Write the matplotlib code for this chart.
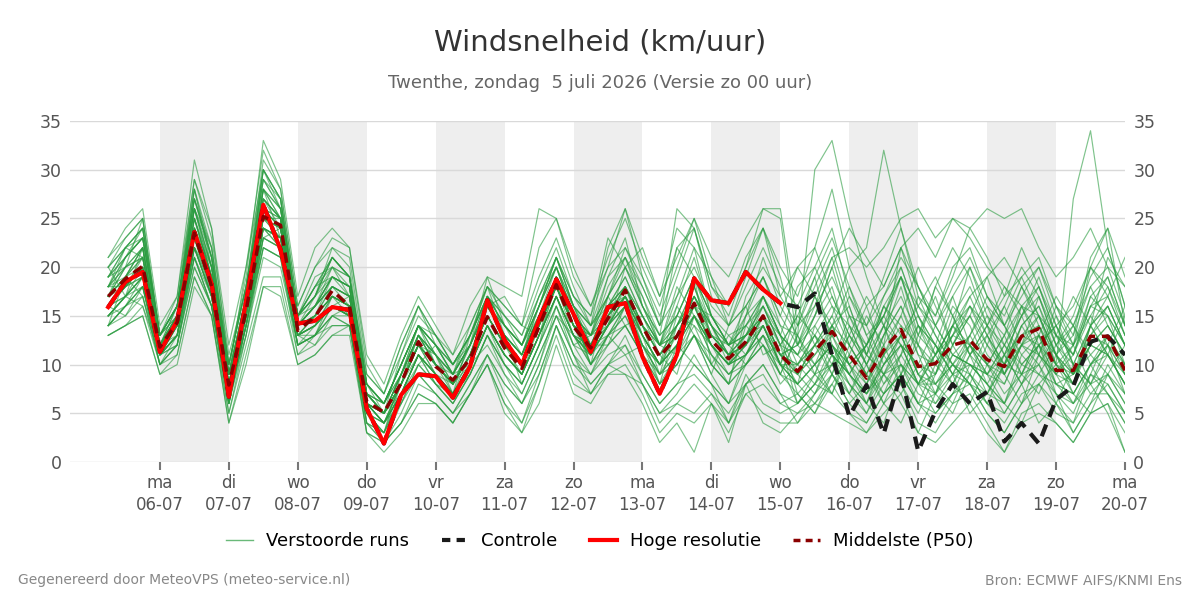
import matplotlib
matplotlib.use("Agg")
import matplotlib.pyplot as plt
import numpy as np
from matplotlib.lines import Line2D

# ---------------- data ----------------
# 6-hourly time steps, hours after 05-07 00:00
hours = [6 + 6 * i for i in range(60)]

day_ticks = [24 * d for d in range(1, 16)]
day_labels = ["ma\n06-07", "di\n07-07", "wo\n08-07", "do\n09-07", "vr\n10-07",
              "za\n11-07", "zo\n12-07", "ma\n13-07", "di\n14-07", "wo\n15-07",
              "do\n16-07", "vr\n17-07", "za\n18-07", "zo\n19-07", "ma\n20-07"]

hoge_resolutie = [15.9, 18.5, 19.5, 11.3, 14.5, 23.6, 18.3, 6.7, 16.5, 26.4,
                  21.8, 14.2, 14.5, 15.9, 15.6, 5.5, 1.9, 6.9, 9.0, 8.8,
                  6.6, 9.8, 16.6, 12.5, 10.0, 14.6, 18.75, 15.2, 11.3, 15.9,
                  16.3, 10.8, 7.0, 11.0, 18.85, 16.6, 16.3, 19.5, 17.7, 16.3]

controle = [15.9, 18.5, 19.5, 11.3, 14.5, 23.6, 18.3, 6.7, 16.5, 26.4,
            21.8, 14.2, 14.5, 15.9, 15.6, 5.5, 1.9, 6.9, 9.0, 8.8,
            6.6, 9.8, 16.6, 12.5, 10.0, 14.6, 18.75, 15.2, 11.3, 15.9,
            16.3, 10.8, 7.0, 11.0, 18.85, 16.6, 16.3, 19.5, 17.7, 16.3,
            15.9, 17.3, 11.0, 4.7, 7.9, 2.9, 9.1, 1.1, 5.2, 8.0,
            6.0, 7.2, 2.1, 4.0, 1.9, 6.4, 7.8, 12.35, 12.9, 11.0]

middelste = [17.0, 18.8, 20.1, 11.8, 14.3, 23.5, 18.0, 7.9, 15.5, 25.2,
             24.3, 13.5, 14.9, 17.6, 16.0, 6.2, 5.1, 8.1, 12.35, 9.8,
             8.4, 10.6, 14.9, 11.7, 9.6, 13.9, 18.2, 13.9, 11.7, 14.75,
             17.65, 13.9, 10.8, 12.9, 16.3, 12.5, 10.6, 12.35, 15.0, 11.0,
             9.3, 11.4, 13.4, 11.0, 8.6, 11.5, 13.6, 9.8, 10.1, 12.0,
             12.5, 10.5, 9.8, 12.9, 13.7, 9.4, 9.4, 12.9, 12.9, 9.4]

# perturbed members (Verstoorde runs), 60 values each
m01 = [17,20,22,12,15,25,19,8,16,27,25,14,16,19,18, 7,5,9,13,11,9,12,16,13,11,15,20,15, 12,16,19,15,12,14,18,13,11,13,16,12, 11,15,20,14,10,13,16,12,9,14,17,13,10,12,15,11,8,14,16,12]
m02 = [15,17,19,11,13,22,17,7,14,23,22,13,14,16,15, 6,4,7,11,9,8,10,14,11,9,13,17,13, 11,14,16,13,10,12,15,12,10,11,14,10, 8,10,12,9,7,11,13,9,11,13,12,9,8,12,13,8,9,12,11,8]
m03 = [19,22,24,13,16,27,21,9,17,29,26,15,17,21,19, 8,6,10,14,12,10,13,18,15,13,17,21,17, 15,20,22,18,14,19,24,17,14,18,22,18, 16,20,24,17,13,15,19,14,12,17,20,15,13,16,18,13,11,17,19,14]
m04 = [13,14,16,10,11,19,15,5,12,19,19,11,12,14,14, 3,2,4,7,6,4,7,10,6,3,8,14,9, 7,10,9,8,4,6,5,7,4,9,6,5, 6,8,10,7,5,8,10,6,7,9,8,6,5,8,10,6,4,9,8,5]
m05 = [18,20,21,12,14,24,19,8,15,26,24,14,15,18,17, 6,5,8,12,10,8,11,15,12,10,14,19,14, 12,15,18,14,11,13,17,13,11,12,15,11, 9,12,15,11,8,12,22,18,14,11,10,9,12,15,17,12,9,11,13,10]
m06 = [16,18,20,11,14,23,18,7,16,25,24,13,15,17,16, 5,4,8,12,9,7,10,14,11,9,13,17,13, 11,14,17,13,10,12,15,12,10,12,14,10, 14,18,22,16,11,9,12,10,8,11,13,10,9,14,16,11,7,10,12,9]
m07 = [20,23,25,13,17,29,23,11,18,31,28,16,20,22,21, 9,7,11,15,13,11,14,18,16,14,19,23,18, 14,22,26,21,17,24,22,19,16,21,24,19, 12,16,19,15,14,19,24,17,15,20,22,17,15,19,21,16,13,18,20,15]
m08 = [14,15,17,10,12,20,16,6,13,21,20,12,13,15,14, 4,2,6,9,7,5,8,11,8,6,10,15,11, 8,10,11,8,5,6,8,6,4,7,8,6, 5,7,9,6,4,7,9,6,5,7,9,6,4,7,8,5,4,7,7,4]
m09 = [17,19,21,12,15,25,19,8,17,27,25,14,16,18,17, 7,5,9,13,10,8,11,15,12,10,14,18,14, 12,15,17,14,11,13,16,13,11,12,15,11, 9,11,13,10,12,16,19,14,10,8,11,14,17,19,15,10,8,12,14,11]
m10 = [16,18,19,11,14,23,18,7,15,24,23,13,14,17,16, 6,5,8,12,10,8,11,15,12,10,14,18,14, 12,14,17,13,10,12,16,12,10,12,15,11, 10,12,11,9,7,9,11,8,9,12,16,13,10,9,12,14,11,16,17,13]
m11 = [21,24,26,14,17,31,24,10,19,33,29,17,22,24,22, 10,7,12,16,13,10,13,18,16,14,22,25,19, 16,21,25,20,16,22,24,18,16,20,24,20, 17,22,28,20,16,18,22,16,14,18,21,17,14,18,20,16,14,19,22,16]
m12 = [13,14,15,9,11,19,15,4,11,18,18,10,11,13,14, 3,1,3,6,6,4,7,10,5,3,6,12,7, 6,9,10,7,3,5,4,6,3,7,5,4, 4,6,5,4,3,5,7,3,2,4,6,3,1,4,5,4,2,5,6,1]
m13 = [18,21,23,13,16,26,20,9,16,28,26,15,16,20,18, 7,6,9,13,11,9,12,16,13,11,16,20,15, 13,17,21,17,12,16,21,15,12,16,19,15, 12,14,17,13,10,14,17,13,11,14,16,12,10,14,16,12,10,14,16,12]
m14 = [15,17,18,11,13,22,17,7,14,24,23,13,14,16,15, 6,4,7,11,9,7,10,14,11,9,13,17,13, 10,13,16,12,9,11,15,11,9,11,14,10, 6,8,11,9,6,10,12,8,7,11,10,8,6,10,12,8,6,10,11,8]
m15 = [17,19,22,12,15,26,19,8,16,28,25,14,16,19,17, 7,5,8,12,10,8,11,16,13,11,15,19,14, 13,16,18,14,12,14,18,14,12,13,16,12, 15,19,12,8,6,11,14,9,7,12,15,11,9,12,11,8,7,10,13,9]
m16 = [16,18,20,12,14,23,18,8,15,26,24,14,15,17,16, 6,5,8,12,10,8,11,15,12,10,14,18,14, 11,14,17,13,10,13,16,12,10,12,15,11, 8,10,12,10,12,15,20,15,12,10,8,7,10,13,14,10,12,17,15,10]
m17 = [19,21,24,13,16,28,21,10,18,30,27,15,18,21,19, 8,6,10,14,12,10,13,17,14,12,16,21,16, 13,17,20,16,13,15,19,15,13,14,17,14, 13,17,21,15,11,14,19,13,18,22,19,14,11,15,18,13,11,16,19,14]
m18 = [14,16,17,10,12,21,16,6,14,22,21,12,13,15,14, 4,2,4,8,7,5,8,11,7,4,9,14,10, 9,12,14,11,8,10,13,10,8,10,12,9, 7,9,10,8,6,9,10,7,6,9,10,8,6,9,10,7,6,8,9,7]
m19 = [16,17,19,11,14,23,17,7,15,24,23,13,14,16,15, 6,4,7,11,9,7,10,14,11,9,13,17,13, 11,14,16,12,10,12,15,12,10,11,14,10, 9,12,14,10,7,10,12,8,8,10,9,7,6,11,13,9,8,13,12,9]
m20 = [20,22,24,13,16,27,22,9,17,30,27,15,17,21,19, 8,6,10,14,12,9,13,17,14,12,16,21,16, 14,17,20,16,13,15,19,15,12,14,17,13, 11,15,18,12,9,13,18,12,10,13,17,19,21,18,14,11,9,13,15,12]
m21 = [18,19,22,12,15,24,20,9,17,26,25,15,18,19,18, 7,5,9,13,10,9,12,16,17,14,13,19,15, 10,13,14,11,7,12,10,8,6,11,13,9, 13,30,33,25,19,14,12,10,9,13,16,14,12,10,9,8,7,10,12,10]
m22 = [14,16,18,11,13,21,17,6,15,23,22,12,13,15,15, 5,3,7,11,8,6,9,13,10,8,12,16,12, 13,18,21,16,12,17,22,15,12,15,19,14, 10,12,15,20,22,32,24,18,14,11,10,9,11,13,12,10,9,12,11,8]
m23 = [17,18,20,12,14,24,18,8,16,25,24,14,15,17,16, 6,4,8,12,9,7,10,14,11,9,13,18,13, 12,13,15,12,9,10,13,11,9,10,12,10, 8,10,12,9,7,10,13,9,8,10,12,10,8,12,14,10,27,34,22,16]
m24 = [21,23,25,13,16,29,24,12,20,32,28,16,20,23,22, 11,8,13,17,14,11,16,19,18,17,26,25,20, 16,20,26,19,14,26,24,18,15,20,26,26, 14,16,21,22,20,22,25,26,23,25,24,26,25,26,22,19,21,24,20,18]
m25 = [19,21,23,13,15,27,21,10,18,29,26,15,17,21,19, 9,7,12,16,13,10,13,17,15,13,18,22,17, 15,23,20,22,17,21,25,21,19,23,26,25, 12,15,20,24,21,18,22,24,21,25,23,20,18,16,15,13,12,16,15,12]
m26 = [13,14,15,9,10,18,15,4,10,18,17,10,11,13,13, 3,2,4,7,6,4,7,10,6,4,8,13,8, 7,9,9,6,2,4,1,6,2,8,4,3, 5,6,8,5,3,6,8,4,3,6,7,4,1,5,6,4,2,5,6,3]
m27 = [15,17,19,12,14,22,17,7,14,24,23,13,14,17,16, 5,4,8,13,10,8,11,15,12,10,14,18,14, 11,15,17,12,9,15,14,10,13,11,15,13, 7,5,9,14,10,6,4,8,12,9,5,7,11,8,4,6,10,8,5,1]
m28 = [17,20,21,12,14,25,19,8,16,26,25,14,16,18,17, 6,5,9,12,10,8,12,16,13,11,15,19,15, 10,17,14,15,12,11,19,10,8,14,12,9, 13,10,7,11,15,12,8,5,9,14,11,7,10,16,12,7,5,9,13,10]
m29 = [16,17,20,11,13,23,18,7,15,25,23,13,15,17,16, 7,5,8,11,9,7,10,14,11,9,13,17,13, 12,12,16,13,8,14,16,15,12,10,13,11, 10,13,9,6,8,13,16,11,7,5,9,13,9,6,11,15,10,7,9,12]
m30 = [18,21,23,13,16,26,21,9,17,28,26,15,17,20,19, 8,6,10,14,11,9,12,17,14,12,16,20,16, 14,16,19,15,12,13,17,14,11,15,17,13, 18,20,16,12,9,7,11,14,12,9,13,17,14,11,9,12,15,20,17,13]
m31 = [15,16,18,10,12,22,17,6,14,23,22,12,13,16,15, 5,3,7,10,8,6,9,13,10,8,12,16,12, 9,13,11,12,10,16,13,9,14,16,11,12, 6,9,14,18,13,9,7,10,14,17,12,8,11,15,19,14,10,8,12,16]
m32 = [17,19,21,12,14,24,19,8,16,26,24,14,16,18,17, 6,5,8,12,10,8,11,15,12,10,14,18,14, 13,15,18,14,11,9,15,12,10,13,15,10, 16,12,9,7,11,16,13,9,6,8,12,10,7,9,13,11,8,14,21,18]
m33 = [14,16,18,11,13,21,16,6,14,22,21,12,13,16,15, 5,4,7,11,9,7,10,14,10,8,12,17,12, 11,14,16,14,9,12,18,13,11,12,17,13, 9,7,10,15,12,8,11,17,13,10,8,12,16,20,17,12,14,18,14,11]
m34 = [19,22,24,12,16,28,22,10,18,29,27,15,18,21,19, 8,6,10,14,12,9,12,16,14,12,17,21,16, 12,16,18,13,10,14,16,14,12,13,14,11, 12,17,14,10,8,11,15,20,16,12,15,19,14,10,12,9,11,15,12,7]
m35 = [16,18,19,11,13,22,17,7,14,24,23,13,14,16,15, 4,3,6,10,8,6,9,13,9,7,11,15,11, 7,10,12,9,6,8,9,7,5,8,10,7, 4,7,11,8,5,9,6,3,7,10,8,5,3,6,9,7,3,6,10,7]
m36 = [17,19,22,12,15,25,20,9,16,27,25,14,16,19,18, 7,5,9,13,11,9,12,16,13,11,15,19,15, 13,14,18,15,12,13,15,13,12,14,16,13, 11,9,13,17,14,10,13,16,19,15,11,14,18,15,11,9,12,20,24,19]
m37 = [20,22,23,13,16,27,21,9,17,30,26,15,18,20,19, 8,6,10,14,12,10,13,17,14,12,16,20,16, 14,19,21,18,14,17,20,16,14,16,19,15, 20,17,13,9,12,17,20,15,11,14,20,16,12,9,13,17,14,11,9,6]
m38 = [15,17,19,11,13,22,18,7,15,24,22,13,14,16,15, 6,4,7,11,9,7,10,14,11,9,13,17,13, 10,12,14,11,9,11,14,12,9,11,13,10, 8,14,11,7,10,14,9,6,10,15,18,14,9,12,17,13,9,14,17,21]
m39 = [18,20,22,12,15,26,20,8,16,27,25,14,16,19,18, 7,5,9,13,10,8,11,16,13,11,15,19,14, 12,16,17,14,11,14,17,14,11,13,15,12, 15,13,10,13,17,14,10,8,11,16,14,10,13,18,15,11,13,21,24,14]
m40 = [16,18,20,11,14,23,18,7,15,25,23,13,15,17,16, 6,5,8,12,10,8,11,15,12,10,14,18,14, 10,13,15,11,8,11,13,10,8,10,12,8, 10,8,12,10,6,4,9,12,8,6,10,8,5,8,11,9,6,9,7,4]
m41 = [14,19,17,11,12,21,16,6,15,24,22,12,14,16,17, 5,3,9,14,10,7,13,17,15,12,17,20,15, 13,19,23,16,12,18,15,11,8,15,21,16, 13,9,7,12,16,11,8,13,17,12,9,6,10,14,11,16,12,8,11,15]
m42 = [20,17,22,12,16,26,22,10,18,28,23,15,17,22,20, 8,5,11,16,12,9,14,18,13,8,12,19,16, 12,14,20,17,13,22,19,14,10,17,20,17, 20,22,17,13,11,16,14,12,18,15,11,13,16,12,10,13,17,14,11,9]
m43 = [16,15,18,10,13,22,19,7,13,23,24,13,12,15,16, 6,4,6,10,12,9,10,12,9,6,10,16,11, 9,11,12,8,5,7,10,8,4,8,9,6, 7,5,8,11,9,6,10,8,5,7,11,9,6,4,8,10,7,5,9,6]
m44 = [19,20,25,13,15,28,20,9,20,30,27,15,19,20,17, 7,6,10,14,13,10,12,19,14,11,16,21,17, 14,17,22,19,15,20,25,19,14,19,24,17, 14,19,23,18,14,17,21,18,15,19,24,21,17,22,18,14,16,20,18,13]
m45 = [15,17,16,11,14,24,17,6,16,26,22,13,13,17,15, 4,3,8,12,11,7,9,13,10,7,11,15,13, 11,13,16,12,8,10,13,9,6,10,13,9, 8,6,9,13,10,7,9,14,11,8,6,10,13,9,7,11,14,10,7,5]
m46 = [18,22,21,12,13,23,18,9,15,25,25,14,15,19,18, 6,5,7,11,8,7,11,16,14,12,15,18,15, 13,15,17,14,12,15,19,15,12,13,17,13, 11,13,16,14,12,15,19,16,13,10,13,16,14,17,20,15,12,15,18,14]
m47 = [14,16,19,11,12,20,16,5,13,22,21,11,13,14,14, 5,2,5,9,7,5,7,11,8,6,9,14,10, 8,10,13,9,6,8,11,8,6,8,10,7, 6,8,7,5,4,7,9,6,4,7,8,5,3,6,8,6,3,6,8,5]
m48 = [17,21,23,12,15,26,20,8,17,28,25,14,17,19,18, 7,6,9,14,11,8,12,17,12,9,14,19,15, 12,16,18,15,11,13,17,13,11,12,16,12, 9,11,14,12,9,12,15,11,10,13,15,12,9,13,15,11,9,12,14,11]
m49 = [16,19,20,12,14,24,18,8,16,25,24,14,15,18,16, 6,5,8,12,10,8,11,15,12,10,14,18,14, 11,14,17,13,10,12,16,12,10,11,14,10, 10,13,11,9,12,15,12,8,11,14,12,9,12,16,13,10,8,13,16,12]
m50 = [18,18,21,12,15,25,19,9,16,27,24,14,16,18,17, 7,5,8,13,11,8,11,16,13,11,15,19,14, 12,15,18,14,11,14,17,14,11,13,15,11, 12,10,14,16,11,9,13,15,12,9,12,15,11,8,12,14,10,14,11,8]

members = [m01, m02, m03, m04, m05, m06, m07, m08, m09, m10,
           m11, m12, m13, m14, m15, m16, m17, m18, m19, m20,
           m21, m22, m23, m24, m25, m26, m27, m28, m29, m30,
           m31, m32, m33, m34, m35, m36, m37, m38, m39, m40,
           m41, m42, m43, m44, m45, m46, m47, m48, m49, m50]

title = "Windsnelheid (km/uur)"
subtitle = "Twenthe, zondag  5 juli 2026 (Versie zo 00 uur)"
footer_left = "Gegenereerd door MeteoVPS (meteo-service.nl)"
footer_right = "Bron: ECMWF AIFS/KNMI Ens"
legend_labels = ["Verstoorde runs", "Controle", "Hoge resolutie", "Middelste (P50)"]

# ---------------- plot ----------------
plt.rcParams['font.family'] = ['DejaVu Sans']
fig = plt.figure(figsize=(12, 6), dpi=100)
ax = fig.add_axes([70 / 1200, 1 - 462 / 600, 1055 / 1200, (462 - 121) / 600])

xmin, xmax = -7.3, 360
ax.set_xlim(xmin, xmax)
ax.set_ylim(0, 35)

# alternating day shading
for d in range(1, 15, 2):
    ax.axvspan(24 * d, 24 * (d + 1), color='#eeeeee', zorder=0, lw=0)

ax.set_yticks(range(0, 36, 5))
ax.grid(axis='y', color='#d9d9d9', lw=1, zorder=1)
ax.set_axisbelow(True)

green = '#2a9c40'
for m in members:
    ax.plot(hours[:len(m)], m, color=green, lw=0.85, alpha=0.6, zorder=2)

ax.plot(hours[:len(controle)], controle, color='#1a1a1a', lw=3, ls=(0, (3, 2)), zorder=3)
ax.plot(hours[:len(hoge_resolutie)], hoge_resolutie, color='#ff0000', lw=3, zorder=4)
ax.plot(hours[:len(middelste)], middelste, color='#8b0000', lw=2.5, ls=(0, (3, 2)), zorder=5)

ax.set_xticks(day_ticks)
ax.set_xticklabels(day_labels, fontsize=12, color='#555555', linespacing=1.25)
ax.tick_params(axis='x', length=6, width=1.5, color='#777777', pad=3)
ax.tick_params(axis='y', length=0, labelsize=12.5, labelcolor='#555555', pad=6)
ax.tick_params(axis='y', which='both', right=False, labelright=True)
for s in ax.spines.values():
    s.set_visible(False)

fig.text(0.5, 0.93, title, ha='center', va='center', fontsize=21, color='#333333')
fig.text(0.5, 0.861, subtitle, ha='center', va='center', fontsize=13, color='#666666')
fig.text(18 / 1200, 1 - 580 / 600, footer_left, ha='left', va='center', fontsize=10, color='#888888')
fig.text(1182 / 1200, 1 - 580 / 600, footer_right, ha='right', va='center', fontsize=10, color='#888888')

handles = [Line2D([], [], color=green, lw=1, alpha=0.7),
           Line2D([], [], color='#1a1a1a', lw=3, ls=(0, (2, 1.5))),
           Line2D([], [], color='#ff0000', lw=3),
           Line2D([], [], color='#8b0000', lw=2.5, ls=(0, (2, 1.5)))]
fig.legend(handles, legend_labels, loc='center', bbox_to_anchor=(0.5, 1 - 541 / 600), ncol=4,
           frameon=False, fontsize=13, handlelength=1.5, columnspacing=1.8, handletextpad=0.7)

fig.savefig("out.png", dpi=100)
